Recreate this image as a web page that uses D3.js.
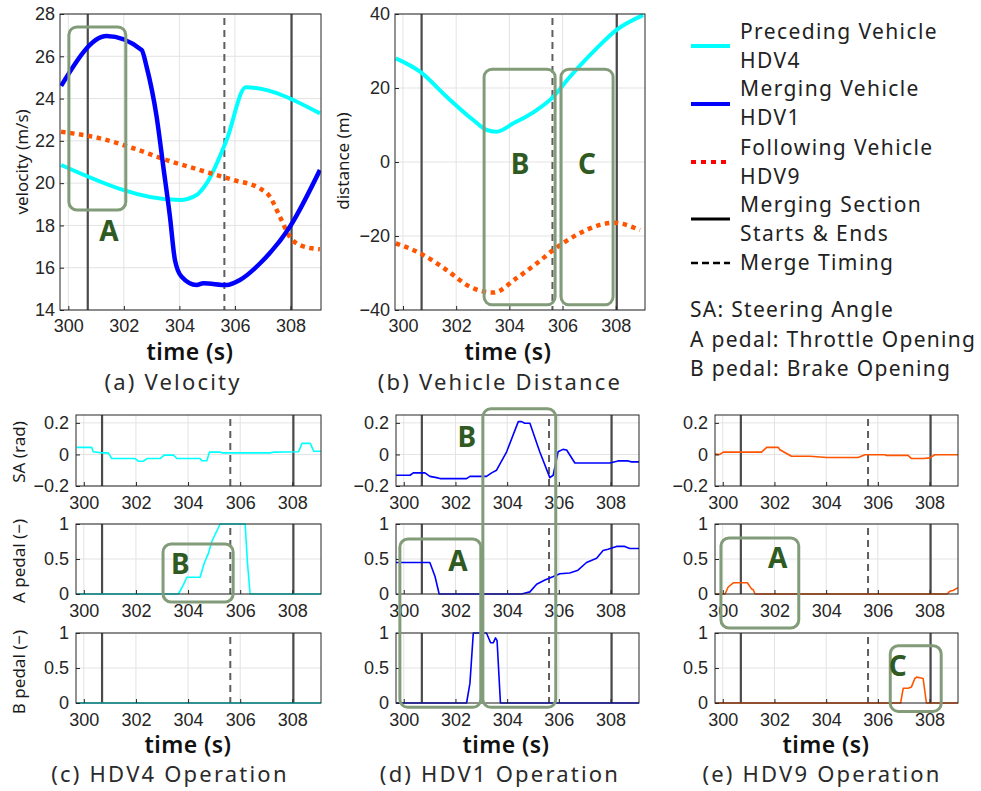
<!DOCTYPE html>
<html><head><meta charset="utf-8">
<script src="https://cdn.jsdelivr.net/npm/d3@7"></script>
<style>body{margin:0;background:#fff}svg{display:block}</style>
</head><body>
<svg id="chart" width="981" height="791"></svg>
<script>
// ---------- DATA ----------
const timeDomain = [299.7, 309.1];
const timeTicks = [300, 302, 304, 306, 308];
const mergeSectionTimes = [300.7, 308.04];
const mergeTimingTime = 305.62;

const velocityTicks = [14, 16, 18, 20, 22, 24, 26, 28];
const distanceTicks = [-40, -20, 0, 20, 40];
const saTicks = [-0.2, 0, 0.2];
const pedalTicks = [0, 0.5, 1];

// (a) velocity [time, m/s]
const velHDV4 = [[299.74,20.86],[304.02,19.2],[304.62,19.44],[304.98,19.99],[305.7,22.04],[306.39,24.53],[309.06,23.3]];
const velHDV1 = [[299.74,24.6],[301.38,26.96],[302.64,26.3],[302.82,25.5],[303.18,23.14],[303.42,20.78],[303.66,18.41],[303.84,16.36],[304.08,15.57],[304.62,15.18],[304.86,15.26],[305.7,15.18],[306.18,15.42],[306.9,16.2],[307.98,17.94],[309.06,20.62]];
const velHDV9 = [[299.74,22.43],[301.14,22.12],[302.34,21.65],[303.54,21.09],[304.74,20.62],[305.94,20.15],[306.9,19.75],[307.26,19.36],[307.62,18.41],[307.98,17.46],[308.34,17.07],[309.06,16.87]];

// (b) distance to merging vehicle [time, m]
const distHDV4 = [[299.73,28.0],[300.64,24.4],[301.64,17.65],[302.64,11.35],[303.15,8.65],[303.52,8.2],[304.15,10.46],[305.03,14.05],[305.59,17.2],[306.28,23.05],[307.28,30.7],[308.03,35.7],[309.03,39.7]];
const distHDV9 = [[299.73,-21.97],[300.76,-25.1],[301.64,-29.2],[302.52,-33.7],[303.4,-35.3],[304.27,-31.4],[305.03,-27.4],[305.65,-23.8],[306.53,-19.7],[307.41,-17.0],[307.91,-16.4],[308.91,-18.4]];

// (c) HDV4 operation
const saHDV4 = [[299.73,0.045],[300.3,0.045],[300.36,0.017],[300.69,0.01],[300.94,0.01],[301.07,-0.026],[301.97,-0.026],[302.09,-0.043],[302.29,-0.043],[302.42,-0.026],[302.93,-0.026],[303.08,-0.004],[303.44,-0.004],[303.57,-0.026],[304.46,-0.026],[304.53,-0.04],[304.72,-0.04],[304.82,0.015],[305.23,0.015],[305.3,0.01],[307.15,0.01],[307.3,0.015],[308.24,0.017],[308.37,0.07],[308.69,0.07],[308.82,0.02],[309.1,0.02]];
const apHDV4 = [[299.7,0],[303.63,0],[303.82,0.13],[303.95,0.24],[304.46,0.24],[304.62,0.44],[304.78,0.58],[304.91,0.75],[305.23,1],[306.19,1],[306.28,0.44],[306.38,0],[309.1,0]];
const bpHDV4 = [[299.7,0],[309.1,0]];

// (d) HDV1 operation
const saHDV1 = [[299.7,-0.132],[300.24,-0.132],[300.37,-0.117],[300.82,-0.117],[301.01,-0.139],[301.27,-0.147],[301.4,-0.153],[302.43,-0.153],[302.56,-0.139],[303.2,-0.139],[303.4,-0.117],[303.59,-0.1],[303.98,0.017],[304.43,0.208],[304.56,0.208],[304.68,0.198],[304.88,0.198],[305.26,0.017],[305.65,-0.147],[305.78,-0.132],[305.97,0.017],[306.16,0.032],[306.3,0.028],[306.62,-0.054],[307.97,-0.054],[308.29,-0.041],[308.68,-0.041],[308.81,-0.047],[309.1,-0.047]];
const apHDV1 = [[299.7,0.45],[301.01,0.45],[301.21,0.25],[301.37,0],[304.56,0],[304.88,0.03],[305.14,0.14],[305.46,0.2],[305.65,0.23],[306.04,0.29],[306.42,0.3],[306.74,0.34],[307.07,0.45],[307.46,0.51],[307.71,0.62],[307.9,0.64],[308.23,0.68],[308.55,0.68],[308.74,0.65],[309.1,0.65]];
const bpHDV1 = [[299.7,0],[302.43,0],[302.56,0.28],[302.69,1],[303.2,1],[303.36,0.86],[303.46,0.86],[303.55,0.93],[303.61,0.89],[303.74,0],[309.1,0]];

// (e) HDV9 operation
const saHDV9 = [[299.7,0.002],[299.89,0],[300.02,0.015],[301.5,0.015],[301.7,0.045],[302.15,0.045],[302.21,0.03],[302.66,-0.011],[303.37,-0.011],[304.02,-0.019],[305.24,-0.019],[305.5,-0.002],[306.27,-0.002],[306.33,-0.006],[307.17,-0.006],[307.3,-0.026],[307.75,-0.026],[308.01,-0.022],[308.2,-0.002],[309.1,-0.002]];
const apHDV9 = [[299.7,0],[300.09,0],[300.21,0.1],[300.41,0.16],[300.95,0.16],[301.12,0.07],[301.18,0.06],[301.25,0],[308.68,0],[308.78,0.04],[308.91,0.05],[309.1,0.09]];
const bpHDV9 = [[299.7,0],[306.88,0],[306.98,0.21],[307.17,0.21],[307.3,0.23],[307.43,0.35],[307.5,0.37],[307.62,0.36],[307.75,0.35],[307.88,0],[309.1,0]];

const legendLabels = [["Preceding Vehicle","HDV4"],["Merging Vehicle","HDV1"],["Following Vehicle","HDV9"],["Merging Section","Starts & Ends"],["Merge Timing"]];
const notes = ["SA: Steering Angle","A pedal: Throttle Opening","B pedal: Brake Opening"];
const captions = ["(a) Velocity","(b) Vehicle Distance","(c) HDV4 Operation","(d) HDV1 Operation","(e) HDV9 Operation"];

// ---------- STYLE ----------
const C4 = "#00ffff", C1 = "#0000ff", C9 = "#ff5500";
const TICKFONT = "'Liberation Sans', Arial, sans-serif";
const JPFONT = "'Noto Sans', 'Open Sans', sans-serif";
const BOXC = "#829c7a", LABC = "#2f5a22";

const svg = d3.select("#chart");
svg.append("rect").attr("width",981).attr("height",791).attr("fill","#fff");

const tickFmt = d => String(d).replace("-", "\u2212");

let clipId = 0;
function panel(spec) {
  const x = d3.scaleLinear().domain(timeDomain).range([spec.x0, spec.x1]);
  const y = d3.scaleLinear().domain(spec.yDomain).range([spec.y1, spec.y0]);
  const g = svg.append("g");
  g.selectAll(null).data(timeTicks).join("line")
    .attr("x1", d => x(d)).attr("x2", d => x(d)).attr("y1", spec.y0).attr("y2", spec.y1)
    .attr("stroke", "#e3e3e3").attr("stroke-width", 1);
  g.selectAll(null).data(spec.yTicks).join("line")
    .attr("y1", d => y(d)).attr("y2", d => y(d)).attr("x1", spec.x0).attr("x2", spec.x1)
    .attr("stroke", "#e3e3e3").attr("stroke-width", 1);
  g.selectAll(null).data(mergeSectionTimes).join("line")
    .attr("x1", d => x(d)).attr("x2", d => x(d)).attr("y1", spec.y0).attr("y2", spec.y1)
    .attr("stroke", "#4a4a4a").attr("stroke-width", 2.2);
  g.append("line").attr("x1", x(mergeTimingTime)).attr("x2", x(mergeTimingTime))
    .attr("y1", spec.y0 + 4).attr("y2", spec.y1).attr("stroke", "#5e5e5e")
    .attr("stroke-width", 2).attr("stroke-dasharray", "7,5");
  const id = "clip" + (clipId++);
  svg.append("clipPath").attr("id", id).append("rect")
    .attr("x", spec.x0).attr("y", spec.y0 - 3).attr("width", spec.x1 - spec.x0).attr("height", spec.y1 - spec.y0 + 4);
  const line = d3.line().x(d => x(d[0])).y(d => y(d[1]))
    .curve(spec.big ? d3.curveMonotoneX : d3.curveLinear);
  spec.series.forEach(s => {
    g.append("path").attr("d", line(s.data)).attr("fill", "none")
      .attr("stroke", s.color).attr("stroke-width", s.width)
      .attr("stroke-dasharray", s.dash || null)
      .attr("stroke-linejoin", "round")
      .attr("clip-path", `url(#${id})`);
  });
  g.append("rect").attr("x", spec.x0).attr("y", spec.y0)
    .attr("width", spec.x1 - spec.x0).attr("height", spec.y1 - spec.y0)
    .attr("fill", "none").attr("stroke", "#262626").attr("stroke-width", 1);
  const ax = g.append("g").attr("transform", `translate(0,${spec.y1})`)
    .call(d3.axisBottom(x).tickValues(timeTicks).tickSizeInner(-4).tickSizeOuter(0).tickPadding(spec.big ? 9 : 10).tickFormat(d3.format("d")));
  const ay = g.append("g").attr("transform", `translate(${spec.x0},0)`)
    .call(d3.axisLeft(y).tickValues(spec.yTicks).tickSizeInner(-4).tickSizeOuter(0).tickPadding(spec.big ? 5 : 7).tickFormat(tickFmt));
  [ax, ay].forEach(a => {
    a.select(".domain").remove();
    a.selectAll("line").attr("stroke", "#262626");
    a.selectAll("text").attr("font-family", TICKFONT).attr("font-size", 18).attr("fill", "#262626");
  });
  return {x, y};
}

const topY = [14, 310];
const bottomRows = {sa: [415, 486], ap: [524, 594], bp: [633, 703]};
const cols = {a: [60, 321], b: [395, 645], c: [76, 321], d: [396, 639], e: [715, 958]};

const A = panel({x0: cols.a[0], x1: cols.a[1], y0: topY[0], y1: topY[1], yDomain: [14, 28], yTicks: velocityTicks, big: true,
  series: [{data: velHDV4, color: C4, width: 4}, {data: velHDV9, color: C9, width: 4.5, dash: "4.5,4.5"}, {data: velHDV1, color: C1, width: 4.5}]});
const B = panel({x0: cols.b[0], x1: cols.b[1], y0: topY[0], y1: topY[1], yDomain: [-40, 40], yTicks: distanceTicks, big: true,
  series: [{data: distHDV4, color: C4, width: 4}, {data: distHDV9, color: C9, width: 4.5, dash: "4.5,4.5"}]});

const ops = {
  c: {sa: saHDV4, ap: apHDV4, bp: bpHDV4, color: C4},
  d: {sa: saHDV1, ap: apHDV1, bp: bpHDV1, color: C1},
  e: {sa: saHDV9, ap: apHDV9, bp: bpHDV9, color: C9}
};
const P = {};
Object.keys(ops).forEach(k => {
  P[k] = {};
  ["sa", "ap", "bp"].forEach(r => {
    P[k][r] = panel({x0: cols[k][0], x1: cols[k][1], y0: bottomRows[r][0], y1: bottomRows[r][1],
      yDomain: r === "sa" ? [-0.2, 0.25] : [0, 1], yTicks: r === "sa" ? saTicks : pedalTicks,
      series: [{data: ops[k][r], color: ops[k].color, width: 1.6}]});
  });
});

// ---------- TEXT ----------
function txt(x, y, s, opt = {}) {
  const t = svg.append("text").attr("x", x).attr("y", y).text(s)
    .attr("font-family", opt.family || JPFONT).attr("font-size", opt.size || 20)
    .attr("font-weight", opt.weight || 400).attr("fill", opt.fill || "#1a1a1a")
    .attr("letter-spacing", opt.ls || 0)
    .attr("text-anchor", opt.anchor || "middle").attr("dominant-baseline", "central");
  if (opt.rotate) t.attr("transform", `rotate(-90,${x},${y})`);
  return t;
}
txt(21, 162, "velocity (m/s)", {size: 17, rotate: true});
txt(342, 161, "distance (m)", {size: 17, rotate: true});
txt(18, 452, "SA (rad)", {size: 17, rotate: true});
txt(18, 561, "A pedal (−)", {size: 17, rotate: true});
txt(18, 672, "B pedal (−)", {size: 17, rotate: true});
[[190, 351], [508, 351], [188, 744], [506, 744], [826, 744]].forEach(p => txt(p[0], p[1], "time (s)", {size: 23, weight: 600, fill: "#111", ls: 0.4}));
[[173, 381], [500, 381], [170, 773], [500, 773], [822, 773]].forEach((p, i) => txt(p[0], p[1], captions[i], {size: 22, weight: 400, fill: "#2a2a2a", ls: 2.2}));

// ---------- LEGEND ----------
const lg = svg.append("g");
const legendLines = [
  {y: 46, color: C4, dash: null, w: 4},
  {y: 104, color: C1, dash: null, w: 4},
  {y: 162, color: "#ff0000", dash: "5,5", w: 4},
  {y: 219, color: "#000", dash: null, w: 3},
  {y: 263, color: "#000", dash: "7,4", w: 2.5}
];
legendLines.forEach(l => lg.append("line").attr("x1", 691).attr("x2", 730).attr("y1", l.y).attr("y2", l.y)
  .attr("stroke", l.color).attr("stroke-width", l.w).attr("stroke-dasharray", l.dash));
const legendY = [[31, 60], [88, 117], [147, 176], [204, 233], [262]];
legendLabels.forEach((ls, i) => ls.forEach((s, j) => txt(740, legendY[i][j], s, {size: 21, anchor: "start", ls: 1.4, fill: "#222"})));
notes.forEach((s, i) => txt(690, 309 + i * 29.5, s, {size: 21, anchor: "start", ls: 1.3, fill: "#222"}));

// ---------- ANNOTATION BOXES ----------
function box(xs, x0t, x1t, ys0, v0, ys1, v1) {
  const X0 = xs(x0t), X1 = xs(x1t), Y0 = ys0(v0), Y1 = ys1(v1);
  svg.append("rect").attr("x", X0).attr("y", Y0).attr("width", X1 - X0).attr("height", Y1 - Y0)
    .attr("rx", 8).attr("ry", 8).attr("fill", "none").attr("stroke", BOXC).attr("stroke-width", 3);
}
function boxLabel(xs, t, ys, v, s) {
  txt(xs(t), ys(v), s, {size: 28, weight: 700, fill: LABC});
}
box(A.x, 300.02, 302.07, A.y, 27.39, A.y, 18.73);
boxLabel(A.x, 301.46, A.y, 17.78, "A");
box(B.x, 303.05, 305.72, B.y, 25.1, B.y, -38.6);
boxLabel(B.x, 304.4, B.y, -0.3, "B");
box(B.x, 305.94, 307.9, B.y, 25.1, B.y, -38.6);
boxLabel(B.x, 306.92, B.y, -0.3, "C");
box(P.c.ap.x, 303.04, 305.73, P.c.ap.y, 0.714, P.c.ap.y, -0.114);
boxLabel(P.c.ap.x, 303.7, P.c.ap.y, 0.443, "B");
box(P.d.sa.x, 303.06, 305.88, P.d.sa.y, 0.289, P.d.bp.y, -0.062);
boxLabel(P.d.sa.x, 302.44, P.d.sa.y, 0.117, "B");
box(P.d.ap.x, 299.85, 302.98, P.d.ap.y, 0.786, P.d.bp.y, -0.062);
boxLabel(P.d.ap.x, 302.1, P.d.ap.y, 0.486, "A");
box(P.e.ap.x, 299.93, 302.94, P.e.ap.y, 0.8, P.e.ap.y, -0.486);
boxLabel(P.e.ap.x, 302.13, P.e.ap.y, 0.53, "A");
box(P.e.bp.x, 306.48, 308.45, P.e.bp.y, 0.817, P.e.bp.y, -0.12);
boxLabel(P.e.bp.x, 306.77, P.e.bp.y, 0.543, "C");
</script>
</body></html>
